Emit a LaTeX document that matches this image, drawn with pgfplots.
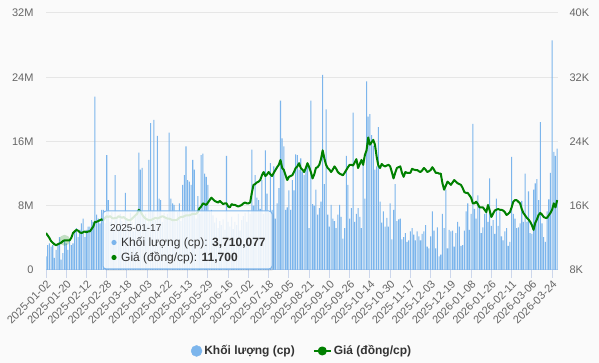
\documentclass[border=0pt]{standalone}
\usepackage{pgfplots}
\pgfplotsset{compat=1.18}
\usepackage{pgfplotstable}
\usepackage{fontspec}
\setmainfont{Liberation Sans}
\definecolor{barblue}{HTML}{7CB5EC}
\definecolor{linegreen}{HTML}{008000}
\definecolor{gridc}{HTML}{E6E6E6}
\definecolor{axisc}{HTML}{CCD6EB}
\definecolor{labelc}{HTML}{666666}
\definecolor{textc}{HTML}{333333}
\definecolor{bgc}{HTML}{FAFAFA}
\pgfplotstableread{
i v p
0 1.7 12.6
1 3.1 12.3
2 3.3 12.0
3 2.9 11.6
4 3.1 11.4
5 1.5 11.2
6 2.5 11.1
7 3.1 11.2
8 4.1 11.3
9 1.3 11.4
10 2.1 11.6
11 3.71 11.7
12 3.3 11.7
13 2.5 11.7
14 3.7 11.7
15 3.1 12.0
16 3.3 12.6
17 4.8 12.8
18 5.2 13.0
19 4.1 12.9
20 5.0 12.7
21 5.8 12.6
22 6.4 12.7
23 4.1 12.8
24 5.0 12.7
25 5.4 12.8
26 5.4 12.8
27 6.2 13.1
28 6.0 13.4
29 21.6 14.0
30 6.9 14.0
31 6.4 14.1
32 5.8 14.2
33 7.5 14.3
34 7.5 14.2
35 5.8 14.5
36 14.3 14.7
37 8.7 14.6
38 6.0 14.7
39 7.2 14.5
40 5.1 14.4
41 11.8 14.5
42 6.5 14.5
43 5.4 14.7
44 7.0 14.6
45 6.1 14.5
46 4.9 14.6
47 9.6 14.4
48 6.2 14.3
49 5.5 14.2
50 7.1 14.2
51 6.0 14.4
52 4.8 14.6
53 6.6 14.8
54 7.2 15.0
55 14.6 15.5
56 12.5 15.3
57 12.7 14.9
58 6.5 14.6
59 7.0 14.4
60 5.8 14.3
61 13.7 14.2
62 18.3 14.2
63 7.3 14.3
64 18.7 14.4
65 6.2 14.5
66 16.7 14.4
67 8.9 14.5
68 8.7 14.6
69 6.0 14.7
70 7.1 14.6
71 6.4 14.5
72 7.0 14.4
73 17.1 14.4
74 8.9 14.3
75 8.3 14.2
76 8.1 14.2
77 6.0 14.2
78 7.2 14.3
79 8.3 14.5
80 6.1 14.6
81 10.6 14.6
82 11.8 14.7
83 15.4 14.8
84 11.2 14.8
85 11.0 14.8
86 10.6 14.9
87 13.7 15.0
88 12.5 15.0
89 6.4 15.0
90 9.2 15.2
91 7.0 15.7
92 14.3 15.9
93 14.5 16.3
94 12.0 16.2
95 11.6 16.1
96 10.6 16.4
97 7.3 16.7
98 7.5 17.0
99 6.8 16.8
100 5.9 16.6
101 6.5 16.5
102 5.2 16.4
103 6.1 16.6
104 5.6 16.4
105 6.3 16.2
106 5.0 16.3
107 14.2 16.3
108 6.0 15.9
109 5.4 15.8
110 6.6 16.2
111 5.1 16.1
112 6.0 16.1
113 5.6 16.0
114 7.0 15.9
115 4.9 16.0
116 6.2 16.1
117 6.7 16.3
118 7.1 16.4
119 6.0 16.3
120 7.4 16.3
121 7.0 16.4
122 15.0 17.6
123 8.0 18.6
124 11.8 18.7
125 9.0 18.9
126 8.7 19.0
127 7.6 19.2
128 11.2 19.8
129 7.0 20.2
130 14.9 19.7
131 9.5 19.9
132 7.2 20.2
133 13.3 19.9
134 7.5 19.7
135 12.9 20.1
136 6.4 20.45
137 8.3 20.8
138 10.2 21.1
139 21.1 21.7
140 16.4 20.7
141 15.4 20.45
142 7.5 19.8
143 7.8 19.2
144 9.9 19.6
145 7.5 19.7
146 11.2 19.8
147 9.9 20.2
148 14.4 20.7
149 14.3 20.9
150 12.5 21.3
151 13.9 20.7
152 12.2 20.5
153 11.8 20.2
154 12.9 20.7
155 13.3 21.3
156 5.2 20.8
157 21.1 20.2
158 8.2 19.4
159 8.0 19.9
160 10.0 20.7
161 6.9 20.8
162 7.7 21.1
163 8.5 21.8
164 24.3 22.9
165 10.7 21.9
166 20.0 21.1
167 6.9 20.7
168 5.4 20.5
169 8.1 20.2
170 6.4 20.5
171 6.1 20.9
172 5.2 20.6
173 6.9 20.2
174 8.1 20.0
175 6.6 19.9
176 3.9 19.8
177 5.2 20.1
178 14.2 20.45
179 10.6 20.8
180 6.4 21.1
181 7.7 21.1
182 19.6 21.0
183 6.0 21.4
184 7.0 21.8
185 7.7 20.7
186 6.6 21.2
187 5.2 21.7
188 13.1 21.1
189 8.9 22.3
190 23.5 22.9
191 19.1 24.5
192 19.4 23.6
193 16.8 23.9
194 15.5 24.2
195 12.5 23.6
196 12.9 22.1
197 17.8 21.0
198 8.5 20.7
199 5.9 21.2
200 7.3 21.0
201 5.4 20.9
202 6.5 21.0
203 5.4 21.1
204 8.3 20.9
205 3.8 20.2
206 7.5 19.4
207 10.7 20.1
208 6.1 20.7
209 6.3 20.8
210 6.4 20.9
211 3.8 20.1
212 4.1 19.6
213 4.6 20.2
214 3.5 20.1
215 3.7 20.1
216 4.8 20.1
217 5.2 20.6
218 4.4 20.5
219 3.7 20.45
220 4.8 20.45
221 4.2 20.3
222 3.7 20.2
223 4.5 20.4
224 4.8 20.7
225 5.6 20.5
226 2.9 20.2
227 2.7 20.3
228 4.2 20.45
229 7.3 20.8
230 4.9 20.5
231 2.7 20.1
232 5.3 20.1
233 1.7 20.0
234 1.9 20.0
235 7.0 18.8
236 5.2 18.0
237 10.0 18.5
238 2.7 19.0
239 5.0 18.8
240 4.8 18.6
241 4.9 18.9
242 2.9 19.2
243 4.6 19.0
244 6.0 18.8
245 5.4 18.7
246 3.0 18.6
247 3.1 18.2
248 4.9 17.7
249 7.3 17.6
250 8.3 17.6
251 5.0 17.3
252 7.0 17.0
253 18.2 16.3
254 7.6 16.3
255 6.4 16.5
256 9.3 16.2
257 7.7 15.8
258 4.6 15.8
259 5.3 15.8
260 7.0 15.5
261 7.7 15.2
262 6.0 16.1
263 11.4 15.4
264 5.5 14.6
265 6.2 15.0
266 4.5 15.4
267 8.9 15.5
268 5.5 15.6
269 7.3 15.5
270 4.2 15.5
271 3.7 15.4
272 4.8 15.2
273 5.2 14.85
274 3.0 15.0
275 3.5 15.2
276 14.1 15.8
277 7.0 16.5
278 6.4 16.7
279 5.2 16.7
280 5.3 16.5
281 5.8 16.3
282 8.6 15.6
283 6.0 15.1
284 12.0 14.8
285 6.0 14.5
286 9.8 14.3
287 4.6 14.0
288 4.5 13.6
289 10.0 13.0
290 10.8 13.85
291 11.3 14.3
292 8.7 14.85
293 18.4 15.1
294 5.8 14.9
295 4.1 14.6
296 3.5 14.5
297 7.3 14.5
298 8.8 14.8
299 12.1 15.1
300 28.6 15.5
301 14.7 16.3
302 14.2 15.8
303 15.1 16.7
}\datatable
\begin{document}
\begin{tikzpicture}
\fill[bgc] (0pt,0pt) rectangle (599pt,363pt);
\useasboundingbox (0pt,0pt) rectangle (599pt,363pt);
\begin{axis}[
  at={(46pt,93pt)}, anchor=south west,
  scale only axis, width=512pt, height=257pt,
  xmin=0, xmax=303.5, ymin=0, ymax=32,
  axis x line*=bottom, axis y line*=left,
  x axis line style={draw=axisc, line width=1pt, -},
  y axis line style={draw=none},
  xtick={0,12,...,300},
  xticklabels={2025-01-02,2025-01-20,2025-02-12,2025-02-28,2025-03-18,2025-04-03,2025-04-22,2025-05-13,2025-05-29,2025-06-16,2025-07-02,2025-07-18,2025-08-05,2025-08-21,2025-09-10,2025-09-26,2025-10-14,2025-10-30,2025-11-17,2025-12-03,2025-12-19,2026-01-08,2026-01-26,2026-02-11,2026-03-06,2026-03-24},
  xtick align=outside,
  major tick length=8pt,
  xtick style={draw=axisc, line width=1pt},
  xticklabel style={rotate=45, anchor=north east, inner sep=1pt, font=\fontsize{11pt}{13pt}\selectfont, text=labelc},
  ytick={0,8,16,24,32}, yticklabels={0,8M,16M,24M,32M},
  ytick style={draw=none},
  yticklabel style={font=\fontsize{11pt}{13pt}\selectfont, text=labelc, xshift=-9pt},
  ymajorgrids, grid style={draw=gridc, line width=1pt},
]
\addplot[ybar, bar width=0.62, fill=barblue, draw=none] table[x=i, y=v] {\datatable};
\end{axis}
\begin{axis}[
  at={(46pt,93pt)}, anchor=south west,
  scale only axis, width=512pt, height=257pt,
  xmin=0, xmax=303.5, ymin=8, ymax=40,
  hide x axis,
  axis y line*=right,
  y axis line style={draw=none},
  ytick={8,16,24,32,40}, yticklabels={8K,16K,24K,32K,40K},
  ytick style={draw=none},
  yticklabel style={font=\fontsize{11pt}{13pt}\selectfont, text=labelc, xshift=8pt},
  legend style={at={(0.5,-0.315)}, anchor=center, draw=none, fill=none,
    font=\bfseries\fontsize{12pt}{14pt}\selectfont, text=textc,
    /tikz/every even column/.append style={column sep=16pt}},
  legend columns=2,
]
\addlegendimage{legend image code/.code={\fill[barblue] (6pt,0pt) circle (5.5pt);}}
\addlegendentry{Khối lượng (cp)}
\addplot[linegreen, line width=2pt, line join=round, mark=none,
  legend image code/.code={\draw[linegreen, line width=2pt] (0pt,0pt) -- (17pt,0pt); \fill[linegreen] (8.5pt,0pt) circle (3.5pt);}]
  table[x=i, y=p] {\datatable};
\addlegendentry{Giá (đồng/cp)}
\addplot[only marks, mark=*, mark size=5.5pt, draw opacity=0, mark options={fill=linegreen, draw=linegreen, draw opacity=0, fill opacity=0.22}, forget plot] coordinates {(11,11.7)};
\end{axis}
\fill[black, opacity=0.06, rounded corners=3pt] (104.5pt,92pt) rectangle (274pt,150.5pt);
\draw[draw=barblue, fill=white, fill opacity=0.85, rounded corners=3pt, line width=1pt] (103pt,94pt) rectangle (272pt,152pt);
\node[anchor=base west, inner sep=0pt, font=\fontsize{10pt}{12pt}\selectfont, text=textc] at (110pt,131pt) {2025-01-17};
\fill[barblue] (114pt,120.5pt) circle (2.6pt);
\node[anchor=base west, inner sep=0pt, font=\fontsize{12pt}{14pt}\selectfont, text=textc] at (121pt,116.5pt) {Khối lượng (cp): \textbf{3,710,077}};
\fill[linegreen] (114pt,105.5pt) circle (2.6pt);
\node[anchor=base west, inner sep=0pt, font=\fontsize{12pt}{14pt}\selectfont, text=textc] at (121pt,101.5pt) {Giá (đồng/cp): \textbf{11,700}};
\end{tikzpicture}
\end{document}
